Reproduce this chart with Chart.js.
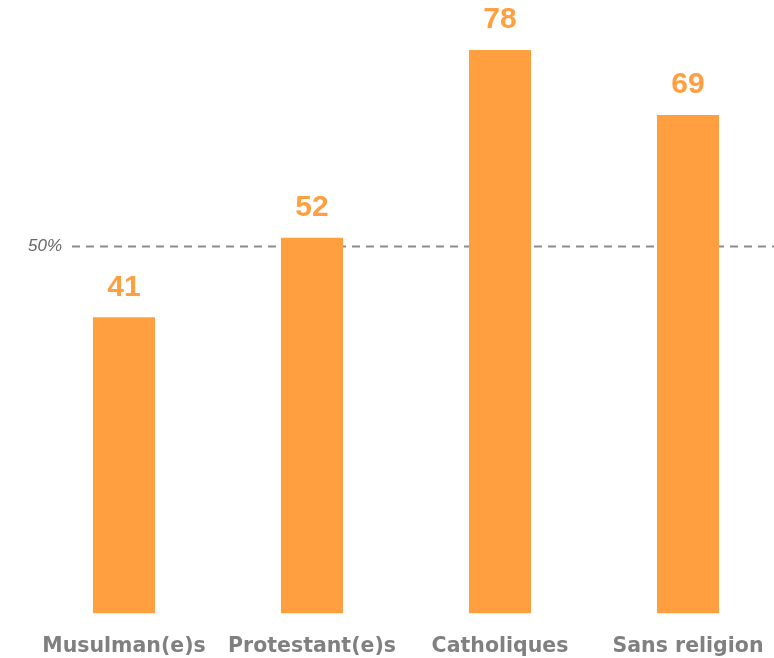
<!DOCTYPE html>
<html>
<head>
<meta charset="utf-8">
<script src="https://cdn.jsdelivr.net/npm/chart.js@4"></script>
<style>
  html, body { margin: 0; padding: 0; background: #fff; overflow: hidden; }
  #wrap { position: absolute; left: 0; top: 0; width: 774px; height: 658px; overflow: hidden; }
</style>
</head>
<body>
<div id="wrap"><canvas id="myChart" width="800" height="681"></canvas></div>
<script>
var categories = ['Musulman(e)s', 'Protestant(e)s', 'Catholiques', 'Sans religion'];
var values = [41, 52, 78, 69];
var refValue = 50.8;
var refLabel = '50%';

var orange = '#FF9F40';

// value labels above bars + dashed reference line
var extras = {
    id: 'extras',
    beforeDatasetsDraw: function(chart) {
        var ctx = chart.ctx;
        var y = chart.scales.y.getPixelForValue(refValue);
        ctx.save();
        ctx.strokeStyle = '#8c8c8c';
        ctx.lineWidth = 2;
        ctx.setLineDash([8, 6]);
        ctx.beginPath();
        ctx.moveTo(72, y);
        ctx.lineTo(chart.width, y);
        ctx.stroke();
        ctx.setLineDash([]);
        ctx.fillStyle = '#666';
        ctx.font = 'italic 17px "Liberation Sans", Arial, sans-serif';
        ctx.textAlign = 'right';
        ctx.textBaseline = 'middle';
        ctx.fillText(refLabel, 62, y);
        ctx.restore();
    },
    afterDatasetsDraw: function(chart) {
        var ctx = chart.ctx;
        var meta = chart.getDatasetMeta(0);
        ctx.save();
        ctx.fillStyle = orange;
        ctx.font = 'bold 30px "Liberation Sans", Arial, sans-serif';
        ctx.textAlign = 'center';
        ctx.textBaseline = 'middle';
        meta.data.forEach(function(bar, i) {
            ctx.fillText(String(values[i]), bar.x, bar.y - 30);
        });
        ctx.restore();
    }
};

var ctx = document.getElementById('myChart').getContext('2d');
var chart = new Chart(ctx, {
    type: 'bar',
    data: {
        labels: categories,
        datasets: [{
            data: values,
            backgroundColor: orange,
            borderWidth: 0,
            categoryPercentage: 1,
            barPercentage: 0.33
        }]
    },
    options: {
        responsive: false,
        animation: false,
        layout: {
            padding: { left: 30, right: 18, top: 35.6, bottom: 1 }
        },
        plugins: {
            legend: { display: false },
            tooltip: { enabled: false }
        },
        scales: {
            x: {
                grid: { display: false, drawTicks: false },
                border: { display: false },
                ticks: {
                    padding: 21,
                    color: '#808080',
                    font: { family: '"DejaVu Sans", sans-serif', size: 20.5, weight: 'bold' }
                }
            },
            y: {
                display: false,
                min: 0,
                max: 80
            }
        }
    },
    plugins: [extras]
});
</script>
</body>
</html>
